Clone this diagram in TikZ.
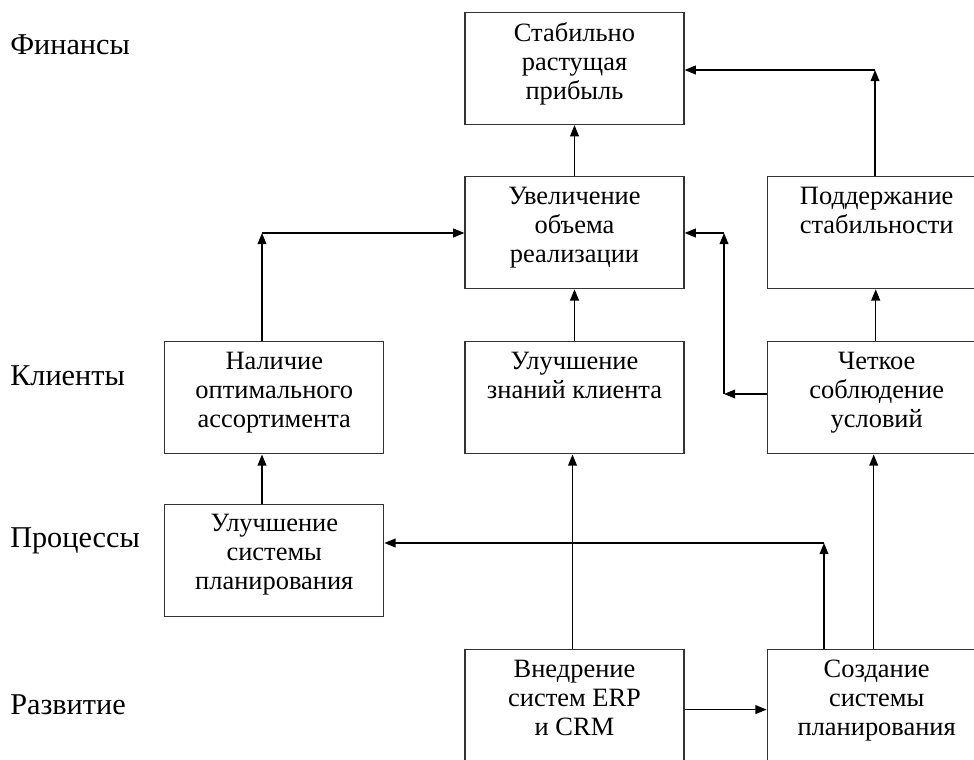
\documentclass[tikz,border=0pt]{standalone}
\usepackage{fontspec}
\setmainfont{Liberation Serif}
\usepackage{tikz}
\usetikzlibrary{arrows.meta, positioning, calc}

\begin{document}
\begin{tikzpicture}[
  x=0.025cm, y=-0.025cm,
  font=\fontsize{18.8pt}{20.6pt}\selectfont,
  node distance=2cm,
  box/.style={rectangle, draw=black!80, line width=0.8pt, anchor=north,
              minimum width=5.475cm, minimum height=2.8cm,
              inner xsep=0pt, inner ysep=0.26cm,
              execute at begin node={\begin{minipage}[t][2.28cm][t]{5.4cm}\centering},
              execute at end node={\end{minipage}}},
  level/.style={anchor=west, inner sep=0pt, font=\fontsize{21.5pt}{24pt}\selectfont},
  arrow/.style={-{Triangle[length=0.28cm, width=0.22cm]}, line width=1pt},
]
\clip (0,0) rectangle (974,760);

% perspectives
\node[level] (fin)  at (10,45)  {Финансы};
\node[level] (kli)  at (10,376) {Клиенты};
\node[level] (proc) at (10,541) {Процессы};
\node[level] (razv) at (10,705) {Развитие};

% boxes
\node[box] (prib) at (574.5,12) {Стабильно\\растущая\\прибыль};
\node[box, below=1.275cm of prib.south, anchor=north] (obem) {Увеличение\\объема\\реализации};
\node[box, right=2.05cm of obem.east, anchor=west] (stab) {Поддержание\\стабильности};
\node[box, below=1.3cm of obem.south, anchor=north] (znan) {Улучшение\\знаний клиента};
\node[box, left=2cm of znan.west, anchor=east] (assort) {Наличие\\оптимального\\ассортимента};
\node[box, right=2.05cm of znan.east, anchor=west] (uslov) {Четкое\\соблюдение\\условий};
\node[box, below=1.225cm of assort.south, anchor=north] (plan) {Улучшение\\системы\\планирования};
\node[box] (erp) at (574.5,649) {Внедрение\\систем ERP\\и CRM};
\node[box, right=2.05cm of erp.east, anchor=west] (sozd) {Создание\\системы\\планирования};

% corners
\coordinate (k1) at (875,70);
\coordinate (k2) at (262,233);
\coordinate (k3) at (724,394);
\coordinate (k4) at (724,233);
\coordinate (k5) at (824,543);

% connectors
\draw[arrow] (obem) -- (prib);
\draw[arrow] (k1 |- stab.north) -- (k1);
\draw[arrow] (k1) -- (k1 -| prib.east);
\draw[arrow] (k2 |- assort.north) -- (k2);
\draw[arrow] (k2) -- (k2 -| obem.west);
\draw[arrow] (k3 -| uslov.west) -- (k3);
\draw[arrow] (k3) -- (k4);
\draw[arrow] (k4) -- (k4 -| obem.east);
\draw[arrow] (znan) -- (obem);
\draw[arrow] ($(uslov.north)+(-1,0)$) -- ($(stab.south)+(-1,0)$);
\draw[arrow] (k2 |- plan.north) -- (k2 |- assort.south);
\draw[arrow] ($(erp.north)+(-2,0)$) -- ($(znan.south)+(-2,0)$);
\draw[arrow] ($(erp.east)+(0,4)$) -- ($(sozd.west)+(0,4)$);
\draw[arrow] (k5 |- sozd.north) -- (k5);
\draw[arrow] (k5) -- (k5 -| plan.east);
\draw[arrow] ($(sozd.north)+(-3,0)$) -- ($(uslov.south)+(-3,0)$);

\end{tikzpicture}
\end{document}
